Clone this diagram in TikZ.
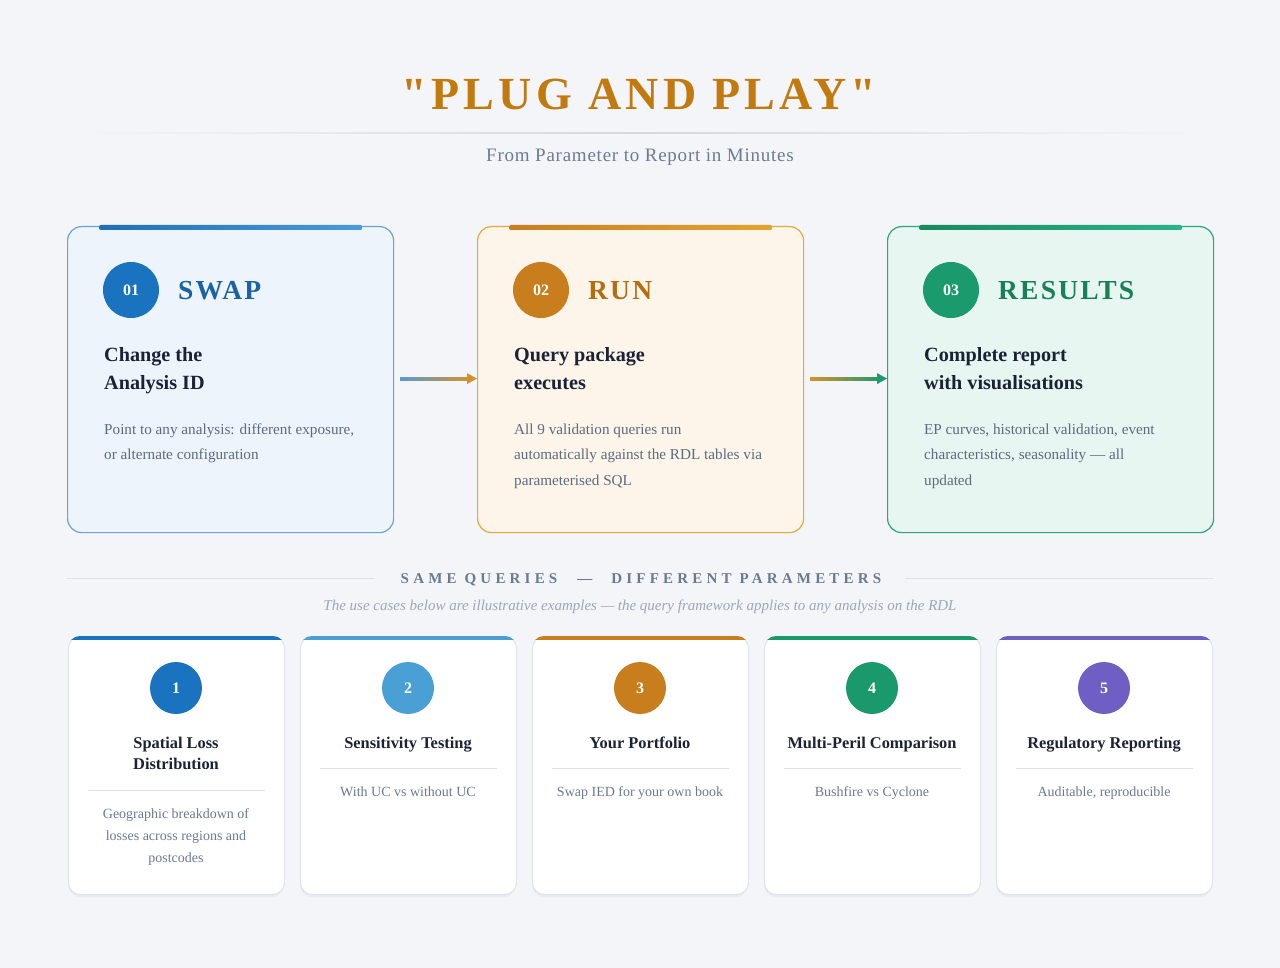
\documentclass[tikz,border=0pt]{standalone}
\usepackage{fontspec}
\setmainfont{Liberation Serif}
\newfontfamily\titlefont[LetterSpace=9.5]{Liberation Serif}
\newfontfamily\headfont[LetterSpace=8]{Liberation Serif}
\newfontfamily\secfont[LetterSpace=28]{Liberation Serif}
\newfontfamily\subfont[LetterSpace=4]{Liberation Serif}
\usetikzlibrary{calc,arrows.meta}
\definecolor{bg}{HTML}{F3F5F9}
\definecolor{titleor}{HTML}{C27A0E}
\definecolor{subgray}{HTML}{6B7C93}
\definecolor{divider}{HTML}{DDE2EA}
\definecolor{dark}{HTML}{1B2235}
\definecolor{body}{HTML}{5C6B80}
\definecolor{desc}{HTML}{6B7A8F}
\definecolor{note}{HTML}{9AA8BA}
\definecolor{secgray}{HTML}{6A7A90}
\definecolor{botborder}{HTML}{DFE4EB}
\definecolor{shadowc}{HTML}{E9EDF2}
% top cards
\definecolor{cAborder}{HTML}{6AA3D8}
\definecolor{cAfill}{HTML}{EEF4FC}
\definecolor{cAbarA}{HTML}{1F6FB8}
\definecolor{cAbarB}{HTML}{4A9BD9}
\definecolor{cAcirc}{HTML}{1A73BE}
\definecolor{cAhead}{HTML}{1A62A6}
\definecolor{cBborder}{HTML}{E3A93F}
\definecolor{cBfill}{HTML}{FDF5E9}
\definecolor{cBbarA}{HTML}{C97E1E}
\definecolor{cBbarB}{HTML}{E6A22E}
\definecolor{cBcirc}{HTML}{C97E1E}
\definecolor{cBhead}{HTML}{B36D12}
\definecolor{cCborder}{HTML}{2AA67A}
\definecolor{cCfill}{HTML}{E8F6F1}
\definecolor{cCbarA}{HTML}{178A5D}
\definecolor{cCbarB}{HTML}{2BB38A}
\definecolor{cCcirc}{HTML}{1B9A6E}
\definecolor{cChead}{HTML}{178059}
\definecolor{arrA}{HTML}{5A9BD0}
\definecolor{arrB}{HTML}{D4922A}
\definecolor{arrC}{HTML}{1F9A6C}
% bottom colours
\definecolor{uA}{HTML}{1A73BE}
\definecolor{uB}{HTML}{4A9FD4}
\definecolor{uC}{HTML}{C97E1E}
\definecolor{uD}{HTML}{1A9A6C}
\definecolor{uE}{HTML}{6F5FC4}
\begin{document}
\begin{tikzpicture}[x=1pt,y=-1pt,
  topcard/.style={draw, line width=1.2pt, rounded corners=14pt, minimum width=326pt, minimum height=306pt, anchor=north west, inner sep=0pt},
  botcard/.style={draw=botborder, line width=1pt, fill=white, rounded corners=12pt, minimum width=216pt, minimum height=258pt, anchor=north west, inner sep=0pt},
  numcirc/.style={circle, minimum size=56pt, inner sep=0pt, text=white, font=\bfseries\fontsize{16}{16}\selectfont},
  smallcirc/.style={circle, minimum size=52pt, inner sep=0pt, text=white, font=\bfseries\fontsize{16}{16}\selectfont},
  headtxt/.style={anchor=base west, inner sep=0pt, font=\headfont\bfseries\fontsize{27.5}{27.5}\selectfont},
  subhead/.style={anchor=base west, inner sep=0pt, text=dark, font=\bfseries\fontsize{20.2}{20.2}\selectfont},
  bodytxt/.style={anchor=base west, inner sep=0pt, text=body, font=\fontsize{15.2}{15.2}\selectfont},
  bottitle/.style={anchor=base, inner sep=0pt, text=dark, font=\bfseries\fontsize{16.4}{16.4}\selectfont},
  botdesc/.style={anchor=base, inner sep=0pt, text=desc, font=\fontsize{14}{14}\selectfont},
  sepline/.style={draw=divider, line width=1pt},
]
\useasboundingbox (0,0) rectangle (1280,968);
\fill[bg] (0,0) rectangle (1280,968);

% ---------- title ----------
\node[anchor=base, inner sep=0pt, text=titleor, font=\titlefont\bfseries\fontsize{46}{46}\selectfont] (title) at (639,110) {"PLUG AND PLAY"};
\shade[left color=bg, right color=bg, middle color=divider!90!gray] (68,132.5) rectangle (1212,134);
\node[anchor=base, inner sep=0pt, text=subgray, font=\subfont\fontsize{19}{19}\selectfont] (subtitle) at (640,162) {From Parameter to Report in Minutes};

% ---------- top cards ----------
\node[topcard, draw=cAborder, fill=cAfill] (card1) at (67,226) {};
\node[topcard, draw=cBborder, fill=cBfill] (card2) at (477,226) {};
\node[topcard, draw=cCborder, fill=cCfill] (card3) at (887,226) {};

\shade[left color=cAbarA, right color=cAbarB, rounded corners=2pt] ($(card1.north west)+(32,-1)$) rectangle ($(card1.north east)+(-32,4)$);
\shade[left color=cBbarA, right color=cBbarB, rounded corners=2pt] ($(card2.north west)+(32,-1)$) rectangle ($(card2.north east)+(-32,4)$);
\shade[left color=cCbarA, right color=cCbarB, rounded corners=2pt] ($(card3.north west)+(32,-1)$) rectangle ($(card3.north east)+(-32,4)$);

\node[numcirc, fill=cAcirc] (n1) at ($(card1.north west)+(64,64)$) {01};
\node[numcirc, fill=cBcirc] (n2) at ($(card2.north west)+(64,64)$) {02};
\node[numcirc, fill=cCcirc] (n3) at ($(card3.north west)+(64,64)$) {03};

\node[headtxt, text=cAhead] (h1) at ($(card1.north west)+(111,73.5)$) {SWAP};
\node[headtxt, text=cBhead] (h2) at ($(card2.north west)+(111,73.5)$) {RUN};
\node[headtxt, text=cChead] (h3) at ($(card3.north west)+(111,73.5)$) {RESULTS};

\node[subhead] (s1a) at ($(card1.north west)+(37,136)$) {Change the};
\node[subhead] (s1b) at ($(card1.north west)+(37,163)$) {Analysis ID};
\node[subhead] (s2a) at ($(card2.north west)+(37,136)$) {Query package};
\node[subhead] (s2b) at ($(card2.north west)+(37,163)$) {executes};
\node[subhead] (s3a) at ($(card3.north west)+(37,136)$) {Complete report};
\node[subhead] (s3b) at ($(card3.north west)+(37,163)$) {with visualisations};

\node[bodytxt] (t1a) at ($(card1.north west)+(37,208)$) {Point to any analysis: different exposure,};
\node[bodytxt] (t1b) at ($(card1.north west)+(37,233)$) {or alternate configuration};
\node[bodytxt] (t2a) at ($(card2.north west)+(37,208)$) {All 9 validation queries run};
\node[bodytxt] (t2b) at ($(card2.north west)+(37,233)$) {automatically against the RDL tables via};
\node[bodytxt] (t2c) at ($(card2.north west)+(37,259)$) {parameterised SQL};
\node[bodytxt] (t3a) at ($(card3.north west)+(37,208)$) {EP curves, historical validation, event};
\node[bodytxt] (t3b) at ($(card3.north west)+(37,233)$) {characteristics, seasonality — all};
\node[bodytxt] (t3c) at ($(card3.north west)+(37,259)$) {updated};

% arrows
\shade[left color=arrA, right color=arrB] ($(card1.east)+(6,-2.5)$) rectangle ($(card2.west)+(-8,0.5)$);
\fill[arrB] ($(card2.west)+(0,-1)$) -- ++(-10,-5.5) -- ++(0,11) -- cycle;
\shade[left color=arrB, right color=arrC] ($(card2.east)+(6,-2.5)$) rectangle ($(card3.west)+(-8,0.5)$);
\fill[arrC] ($(card3.west)+(0,-1)$) -- ++(-10,-5.5) -- ++(0,11) -- cycle;

% ---------- section heading ----------
\node[anchor=base, inner sep=0pt, text=secgray, font=\secfont\bfseries\fontsize{15}{15}\selectfont] (sec) at (641,583) {SAME QUERIES\hspace{20pt}—\hspace{19pt}DIFFERENT PARAMETERS};
\draw[sepline] (67,578) -- (375,578);
\draw[sepline] (905,578) -- (1213,578);
\node[anchor=base, inner sep=0pt, text=note, font=\itshape\fontsize{15}{15}\selectfont] (notetxt) at (640,610) {The use cases below are illustrative examples — the query framework applies to any analysis on the RDL};

% ---------- bottom cards ----------
\foreach \i/\col in {1/uA,2/uB,3/uC,4/uD,5/uE}{
  \fill[shadowc, rounded corners=12pt] ({68+232*(\i-1)},639) rectangle ++(216,258);
  \node[botcard] (b\i) at ({68+232*(\i-1)},636) {};
  \begin{scope}
    \clip[rounded corners=12pt] (b\i.north west) rectangle (b\i.south east);
    \fill[\col] ($(b\i.north west)+(0,-1)$) rectangle ($(b\i.north east)+(0,4)$);
  \end{scope}
  \node[smallcirc, fill=\col] (c\i) at ($(b\i.north west)+(108,52)$) {\i};
}

\node[bottitle] (bt1a) at ($(b1.north west)+(108,112.5)$) {Spatial Loss};
\node[bottitle] (bt1b) at ($(b1.north west)+(108,133.5)$) {Distribution};
\draw[sepline] ($(b1.north west)+(20,154)$) -- ($(b1.north east)+(-20,154)$);
\node[botdesc] (bd1a) at ($(b1.north west)+(108,182)$) {Geographic breakdown of};
\node[botdesc] (bd1b) at ($(b1.north west)+(108,204)$) {losses across regions and};
\node[botdesc] (bd1c) at ($(b1.north west)+(108,226)$) {postcodes};

\node[bottitle] (bt2) at ($(b2.north west)+(108,112.5)$) {Sensitivity Testing};
\draw[sepline] ($(b2.north west)+(20,132)$) -- ($(b2.north east)+(-20,132)$);
\node[botdesc] (bd2) at ($(b2.north west)+(108,160)$) {With UC vs without UC};

\node[bottitle] (bt3) at ($(b3.north west)+(108,112.5)$) {Your Portfolio};
\draw[sepline] ($(b3.north west)+(20,132)$) -- ($(b3.north east)+(-20,132)$);
\node[botdesc] (bd3) at ($(b3.north west)+(108,160)$) {Swap IED for your own book};

\node[bottitle] (bt4) at ($(b4.north west)+(108,112.5)$) {Multi-Peril Comparison};
\draw[sepline] ($(b4.north west)+(20,132)$) -- ($(b4.north east)+(-20,132)$);
\node[botdesc] (bd4) at ($(b4.north west)+(108,160)$) {Bushfire vs Cyclone};

\node[bottitle] (bt5) at ($(b5.north west)+(108,112.5)$) {Regulatory Reporting};
\draw[sepline] ($(b5.north west)+(20,132)$) -- ($(b5.north east)+(-20,132)$);
\node[botdesc] (bd5) at ($(b5.north west)+(108,160)$) {Auditable, reproducible};
\end{tikzpicture}
\end{document}
